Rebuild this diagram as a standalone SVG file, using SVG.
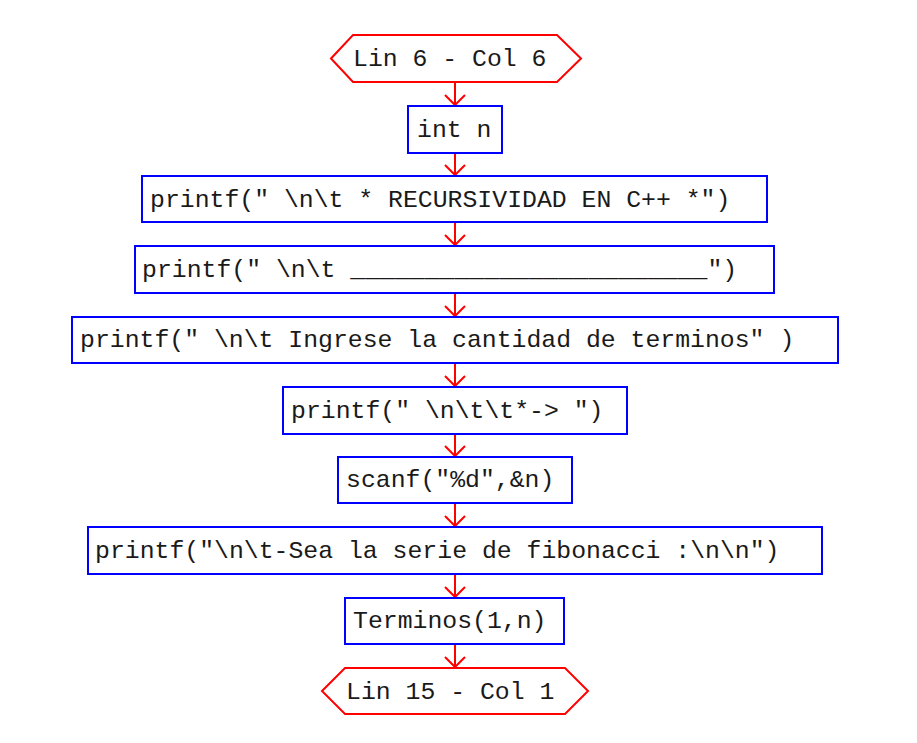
<svg xmlns="http://www.w3.org/2000/svg" width="917" height="743" viewBox="0 0 917 743">
<defs>
<style>
.t{font-family:"Liberation Mono","Courier New",monospace;font-size:24.8px;fill:#1a1a1a;white-space:pre}
.box{fill:#fff;stroke:#0000ff;stroke-width:2}
.term{fill:#fff;stroke:#ff0000;stroke-width:2}
.c{stroke:#ff0000;stroke-width:2;fill:none}
</style>
<marker id="ah" markerUnits="userSpaceOnUse" viewBox="0 0 22 22" markerWidth="22" markerHeight="22" refX="11" refY="11" orient="auto" overflow="visible">
<path d="M1,1 L11,11 L1,21" fill="none" stroke="#ff0000" stroke-width="2"/>
</marker>
</defs>
<rect width="917" height="743" fill="#fff"/>
<g id="connectors">
<line class="c" x1="455" y1="82" x2="455" y2="105" marker-end="url(#ah)"/>
<line class="c" x1="455" y1="153" x2="455" y2="175" marker-end="url(#ah)"/>
<line class="c" x1="455" y1="222" x2="455" y2="245" marker-end="url(#ah)"/>
<line class="c" x1="455" y1="293" x2="455" y2="316" marker-end="url(#ah)"/>
<line class="c" x1="455" y1="363" x2="455" y2="386" marker-end="url(#ah)"/>
<line class="c" x1="455" y1="434" x2="455" y2="456" marker-end="url(#ah)"/>
<line class="c" x1="455" y1="503" x2="455" y2="526" marker-end="url(#ah)"/>
<line class="c" x1="455" y1="574" x2="455" y2="597" marker-end="url(#ah)"/>
<line class="c" x1="455" y1="644" x2="455" y2="667" marker-end="url(#ah)"/>
</g>
<g id="start">
<polygon class="term" points="331,58.5 353,35 557,35 581,58.5 557,82 353,82"/>
<text class="t" x="353" y="66">Lin 6 - Col 6</text>
</g>
<g id="n1">
<rect class="box" x="408" y="106" width="94" height="47"/>
<text class="t" x="417" y="137">int n</text>
</g>
<g id="n2">
<rect class="box" x="142" y="176" width="625" height="46"/>
<text class="t" x="150" y="207">printf(" \n\t * RECURSIVIDAD EN C++ *")</text>
</g>
<g id="n3">
<rect class="box" x="135" y="246" width="639" height="47"/>
<text class="t" x="142" y="277">printf(" \n\t ________________________")</text>
</g>
<g id="n4">
<rect class="box" x="72" y="317" width="766" height="46"/>
<text class="t" x="80" y="347">printf(" \n\t Ingrese la cantidad de terminos" )</text>
</g>
<g id="n5">
<rect class="box" x="283" y="387" width="344" height="47"/>
<text class="t" x="291" y="418">printf(" \n\t\t*-> ")</text>
</g>
<g id="n6">
<rect class="box" x="338" y="457" width="234" height="46"/>
<text class="t" x="346" y="487">scanf("%d",&amp;n)</text>
</g>
<g id="n7">
<rect class="box" x="88" y="527" width="734" height="47"/>
<text class="t" x="95" y="558">printf("\n\t-Sea la serie de fibonacci :\n\n")</text>
</g>
<g id="n8">
<rect class="box" x="345" y="598" width="219" height="46"/>
<text class="t" x="353" y="628">Terminos(1,n)</text>
</g>
<g id="end">
<polygon class="term" points="322,691 345,668 565,668 588,691 565,714 345,714"/>
<text class="t" x="346" y="699">Lin 15 - Col 1</text>
</g>
</svg>
